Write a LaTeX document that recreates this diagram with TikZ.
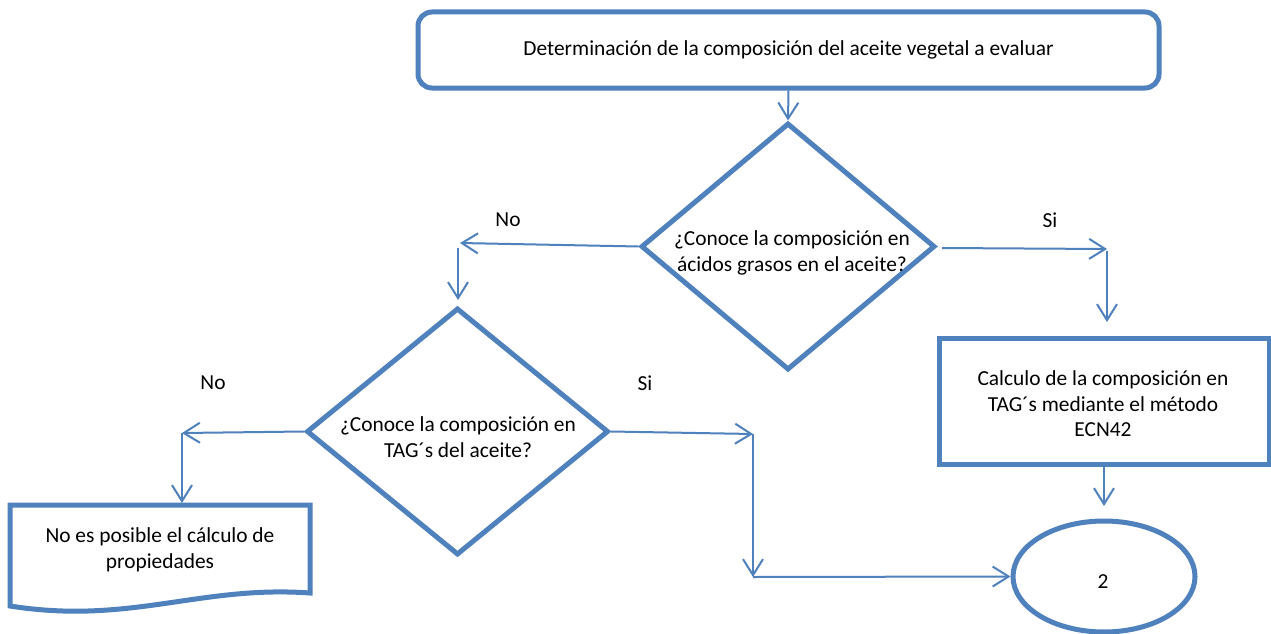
\documentclass[tikz,border=0pt]{standalone}
\usepackage{fontspec}
\setmainfont{Carlito}
\usetikzlibrary{shapes.geometric,arrows.meta}
\definecolor{flowblue}{HTML}{4F81BD}
\tikzset{
  box/.style={draw=flowblue, line width=5pt, fill=white},
  lbl/.style={font=\fontsize{21.4}{25.5}\selectfont, align=center, text=black, inner sep=0pt},
  conn/.style={draw=flowblue, line width=2pt, -{Straight Barb[length=16pt,width=20pt,line width=2pt]}},
}
\begin{document}
\begin{tikzpicture}[x=1pt,y=-1pt]
\useasboundingbox (0,0) rectangle (1271,634);
\fill[white] (0,0) rectangle (1271,634);
% top box
\node[box, rounded corners=14pt, minimum width=741pt, minimum height=76pt, inner sep=0pt] (top) at (788.5,50) {};
\node[lbl] (toptxt) at (788.5,50) {Determinación de la composición del aceite vegetal a evaluar};
% diamond 1
\node[box, diamond, minimum width=294pt, minimum height=247pt, inner sep=0pt] (d1) at (788,246.5) {};
\node[lbl] (d1txt) at (792,253) {¿Conoce la composición en\\ácidos grasos en el aceite?};
% diamond 2
\node[box, diamond, minimum width=302pt, minimum height=247pt, inner sep=0pt] (d2) at (457.5,431.5) {};
\node[lbl] (d2txt) at (458,437) {¿Conoce la composición en\\TAG´s del aceite?};
% right rectangle
\node[box, minimum width=330pt, minimum height=126pt, inner sep=0pt] (calc) at (1104,401) {};
\node[lbl] (calctxt) at (1103,404) {Calculo de la composición en\\TAG´s mediante el método\\ECN42};
% ellipse
\node[box, ellipse, minimum width=182pt, minimum height=111pt, inner sep=0pt] (end) at (1104,576.5) {};
\node[lbl] (endtxt) at (1103,582) {2};
% document shape
\draw[box] (10,505) -- (310,505) -- (310,593)
  .. controls (200,585) and (130,625) .. (10,606) -- cycle;
\node[lbl] (doc) at (160,550) {No es posible el cálculo de\\propiedades};
% coordinates
\coordinate (c1) at (460,243);
\coordinate (c1b) at (458,248);
\coordinate (c1c) at (458,300);
\coordinate (c2a) at (942,248);
\coordinate (c2) at (1107,249);
\coordinate (c2b) at (1107,251);
\coordinate (c2c) at (1107,322);
\coordinate (c3) at (182,433);
\coordinate (c3b) at (182,503);
\coordinate (c4) at (753,434);
\coordinate (c4b) at (753,577);
\coordinate (c5) at (1104,506);
% connectors
\draw[conn] (top.south) -- (d1.north);
\draw[conn] (d1.west) -- (c1);
\draw[conn] (c1b) -- (c1c);
\draw[conn] (c2a) -- (c2);
\draw[conn] (c2b) -- (c2c);
\draw[conn] (d2.west) -- (c3);
\draw[conn] (c3) -- (c3b);
\draw[conn] (d2.east) -- (c4);
\draw[conn] (c4) -- (c4b);
\draw[conn] (c4b) -- (end.west);
\draw[conn] (calc.south) -- (c5);
% labels
\node[lbl] (no1) at (508,220) {No};
\node[lbl] (si1) at (1050,220) {Si};
\node[lbl] (no2) at (213,383) {No};
\node[lbl] (si2) at (645,383) {Si};
\end{tikzpicture}
\end{document}
